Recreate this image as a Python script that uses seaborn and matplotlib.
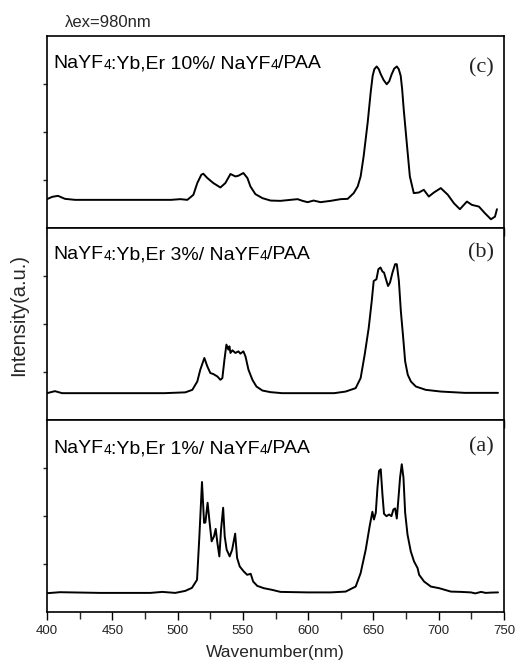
import matplotlib
matplotlib.use("Agg")
import matplotlib.pyplot as plt
import seaborn as sns
from matplotlib.ticker import MultipleLocator, FixedLocator, NullFormatter

# ---------------- data ----------------
wl_c = [400.0, 404.0, 408.4, 413.8, 421.5, 440.0, 460.0, 480.0, 495.0, 502.1, 507.5, 512.1,
        515.1, 518.2, 519.7, 522.8, 527.4, 532.8, 536.6, 540.5, 544.3, 546.6, 550.4, 553.5,
        555.8, 559.6, 565.0, 571.2, 578.8, 586.5, 591.9, 595.7, 599.6, 604.2, 609.5, 617.2,
        624.9, 630.3, 634.9, 638.0, 640.2, 642.5, 645.6, 647.9, 649.4, 650.7, 652.5, 654.1,
        655.6, 657.9, 660.2, 662.1, 664.0, 665.9, 667.9, 669.4, 670.9, 672.0, 673.2, 675.5,
        677.9, 680.9, 684.8, 688.6, 692.4, 696.3, 701.6, 707.0, 711.6, 716.2, 721.6, 725.4,
        730.8, 735.4, 740.0, 743.1, 744.6]
int_c = [28.7, 31, 32, 29, 28, 28, 28, 28, 28, 28.7, 28, 33,
         44.7, 53, 54, 49.7, 44.7, 40.3, 44.7, 53.7, 51.3, 52, 54.7, 49.7,
         41.3, 33.7, 29.7, 27.3, 27, 28, 28.7, 27, 25.7, 27.3, 25.7, 27,
         28.7, 29, 34.7, 41.5, 51.3, 71.3, 105, 135, 151.3, 158, 160.7, 158,
         153, 147, 143, 146, 153, 158.5, 160.7, 158, 151.3, 138, 118, 85,
         51.3, 34.7, 35.3, 38, 31.3, 35.3, 39.7, 33, 24.7, 18.7, 26.3, 23,
         21.3, 14.7, 8.7, 11.3, 18.7]

wl_b = [400.0, 406.1, 411.5, 430.0, 460.0, 490.0, 505.9, 511.3, 515.1, 517.4, 520.5, 522.8,
        525.1, 527.4, 530.5, 532.8, 534.3, 535.9, 537.4, 538.9, 539.7, 540.5, 542.0, 544.3,
        546.6, 548.1, 550.4, 552.0, 554.3, 557.3, 560.4, 565.0, 571.2, 580.0, 600.0, 620.0,
        628.7, 636.4, 640.2, 643.3, 646.4, 648.7, 650.2, 652.3, 653.8, 655.4, 656.9, 658.1,
        660.0, 661.2, 662.7, 664.6, 666.6, 667.9, 669.5, 671.0, 672.8, 674.3, 676.3, 678.7,
        682.5, 690.1, 701.6, 720.0, 745.4]
int_b = [26.7, 28.7, 26.7, 26.7, 26.7, 26.7, 27.5, 30, 38.3, 50, 61.7, 53.3,
         46.7, 45.7, 43.3, 40, 41.7, 60, 75, 70, 73.3, 66.7, 69.3, 66.7,
         68.3, 66, 68.3, 63.3, 50, 40, 33.3, 29.3, 27.7, 26.7, 26.7, 26.7,
         28.3, 31.7, 41.7, 65, 91.7, 118.3, 138.3, 140, 150, 151.7, 147.7, 146.7,
         138.3, 133.3, 136.7, 146.7, 155, 155, 138.3, 108.3, 81.7, 58.3, 45, 38.3,
         33.3, 30, 28.3, 27, 27]

wl_a = [400.0, 410.0, 440.7, 479.1, 488.3, 498.2, 505.9, 511.0, 514.9, 516.7, 518.7, 520.3,
        521.3, 523.0, 524.3, 526.1, 527.9, 529.2, 530.5, 532.0, 533.3, 534.9, 536.1, 537.6,
        539.9, 541.8, 544.1, 545.6, 547.6, 550.7, 553.3, 556.0, 557.9, 561.0, 566.0, 572.5,
        578.8, 600.0, 617.2, 628.7, 636.4, 640.2, 644.1, 647.1, 649.2, 650.4, 651.8, 653.1,
        654.3, 655.6, 656.9, 658.1, 660.0, 662.0, 663.8, 665.3, 666.6, 667.9, 669.2, 670.4,
        671.7, 673.0, 674.3, 676.1, 678.6, 681.1, 683.8, 685.0, 688.8, 694.0, 700.3, 709.3,
        717.0, 724.7, 728.0, 732.4, 736.0, 740.0, 745.4]
int_a = [18.7, 19.7, 19, 19, 20, 19, 21, 24, 32, 75.3, 129.3, 88.7,
         89, 108.7, 92, 70.3, 75.3, 82.7, 68.7, 55.3, 82, 103.7, 75.3, 62,
         55.3, 62, 78, 53.7, 45.3, 40.3, 37, 38, 30.3, 26, 23.7, 22,
         20, 19.5, 19.5, 20.3, 25.3, 38.7, 62, 85.3, 99.7, 92, 98.7, 123.7,
         140.3, 142, 117, 97.7, 95.3, 97, 95.3, 102, 103, 93, 113.7, 133.7,
         147, 133.7, 98.7, 77, 60.3, 50.3, 43.7, 37, 30.3, 25.3, 23.7, 20.3,
         20, 19.5, 18.5, 20, 19, 19.3, 19.5]

samples = ["10%", "3%", "1%"]
panel_tags = ["(c)", "(b)", "(a)"]
x_ticks = [400, 450, 500, 550, 600, 650, 700, 750]
x_label = "Wavenumber(nm)"
y_label = "Intensity(a.u.)"
excitation = "\u03bbex=980nm"

# ---------------- style ----------------
sns.set_style("ticks")
plt.rcParams["font.family"] = ["Liberation Sans", "DejaVu Sans"]
plt.rcParams["axes.linewidth"] = 1.2
plt.rcParams["lines.solid_joinstyle"] = "round"

fig = plt.figure(figsize=(5.15, 6.71), dpi=100)
left, right = 47 / 515, 504 / 515
top, bottom = 1 - 36 / 671, 1 - 612 / 671
h = (top - bottom) / 3

series = [(wl_c, int_c), (wl_b, int_b), (wl_a, int_a)]
tag_y = [0.833, 0.87, 0.862]
lab_y = [0.833, 0.838, 0.828]

axes = []
for i, (wl, inten) in enumerate(series):
    ax = fig.add_axes([left, top - (i + 1) * h, right - left, h])
    sns.lineplot(x=wl, y=inten, ax=ax, color="black", linewidth=1.4)
    ax.set_xlim(400, 750)
    ax.set_ylim(0, 191)
    ax.xaxis.set_major_locator(FixedLocator(x_ticks))
    ax.xaxis.set_minor_locator(MultipleLocator(25))
    ax.yaxis.set_major_locator(FixedLocator([47.75, 95.5, 143.25]))
    ax.yaxis.set_major_formatter(NullFormatter())
    ax.tick_params(axis="x", which="major", direction="out", length=6, width=1.0,
                   color="black", labelsize=9.5, labelcolor="#222222", pad=3)
    ax.tick_params(axis="x", which="minor", direction="out", length=5, width=1.0)
    ax.tick_params(axis="y", which="major", direction="out", length=3, width=1.0)
    ax.set_xlabel("")
    ax.set_ylabel("")
    for sp in ax.spines.values():
        sp.set_visible(True)
        sp.set_linewidth(1.2)
        sp.set_color("black")
    if i < 2:
        ax.tick_params(axis="x", labelbottom=False)

    # composition label with small "4"
    parts = [("NaYF", 14), ("4", 10), (":Yb,Er " + samples[i] + "/ NaYF", 14), ("4", 10), ("/PAA", 14)]
    t = ax.text(0.014, lab_y[i], parts[0][0], transform=ax.transAxes,
                fontsize=parts[0][1], ha="left", va="baseline", color="black")
    prev = t
    for s, fs in parts[1:]:
        prev = ax.annotate(s, xy=(1, 0), xycoords=prev, fontsize=fs,
                           ha="left", va="bottom", color="black")
    ax.text(0.978, tag_y[i], panel_tags[i], transform=ax.transAxes, fontsize=16,
            ha="right", va="center", family=["Liberation Serif", "DejaVu Serif"], color="#222222")
    axes.append(ax)

axes[-1].set_xlabel(x_label, fontsize=12.5, labelpad=6)
fig.text(0.036, 0.531, y_label, rotation=90, ha="center", va="center", fontsize=14.5)
fig.text(0.126, 0.96, excitation, ha="left", va="baseline", fontsize=12)

fig.savefig("out.png", dpi=100)
